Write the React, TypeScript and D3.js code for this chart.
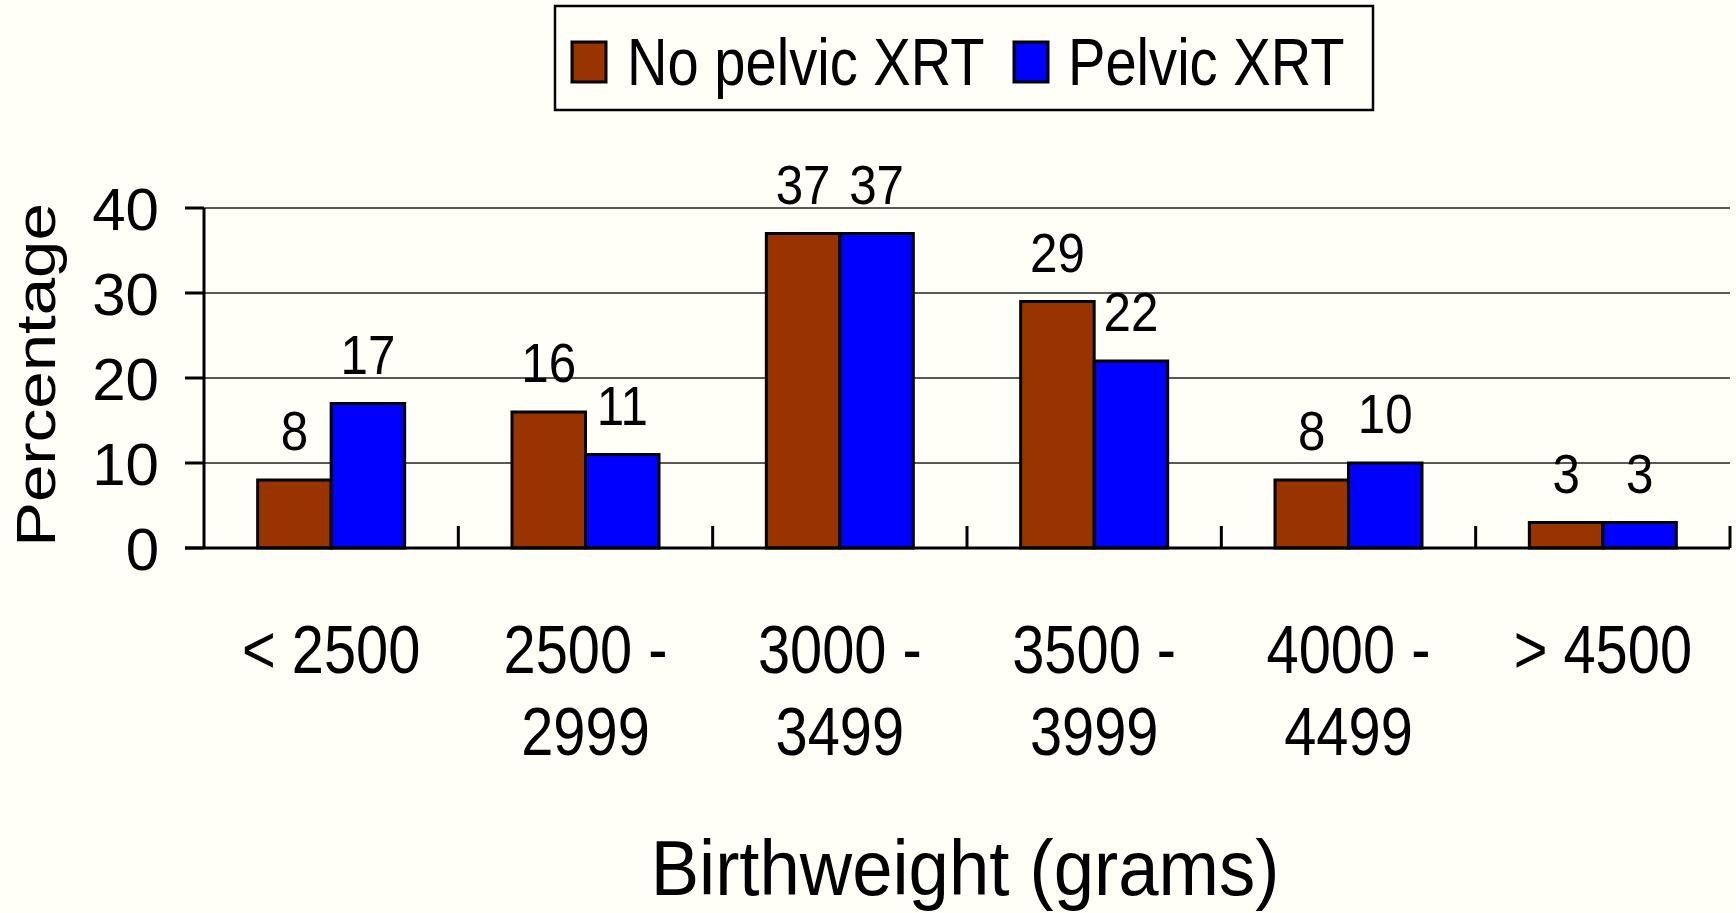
import { useEffect, useRef } from 'react';
import * as d3 from 'd3';

const categories = ['< 2500', '2500 - 2999', '3000 - 3499', '3500 - 3999', '4000 - 4499', '> 4500'];
const categoryLines = [['< 2500'], ['2500 -', '2999'], ['3000 -', '3499'], ['3500 -', '3999'], ['4000 -', '4499'], ['> 4500']];
const seriesNames = ['No pelvic XRT', 'Pelvic XRT'];
const noPelvic = [8, 16, 37, 29, 8, 3];
const pelvic = [17, 11, 37, 22, 10, 3];
const yTicks = [0, 10, 20, 30, 40];
const colors = ['#993300', '#0000FF'];

const W = 1736;
const H = 913;
const FONT = '"Liberation Sans", Arial, sans-serif';

export default function App() {
  const svgRef = useRef<SVGSVGElement>(null);

  useEffect(() => {
    if (!svgRef.current) return;
    const svg = d3.select(svgRef.current);
    svg.selectAll('*').remove();

    const left = 204, right = 1730, bottom = 548, top = 208;

    svg.append('rect').attr('width', W).attr('height', H).attr('fill', '#FFFFF7');

    const x = d3.scaleBand().domain(categories).range([left, right]).paddingInner(0).paddingOuter(0);
    const inner = d3.scaleBand().domain(seriesNames).range([0, 147]);
    const groupOffset = (x.bandwidth() - 147) / 2;
    const y = d3.scaleLinear().domain([0, 40]).range([bottom, top]);

    // gridlines
    svg.append('g').selectAll('line').data(yTicks.filter(t => t > 0)).join('line')
      .attr('x1', left).attr('x2', right)
      .attr('y1', d => y(d)).attr('y2', d => y(d))
      .attr('stroke', '#222').attr('stroke-width', 1.3);

    // bars
    const series = [noPelvic, pelvic];
    series.forEach((vals, si) => {
      svg.append('g').selectAll('rect').data(vals).join('rect')
        .attr('x', (_, i) => (x(categories[i]) ?? 0) + groupOffset + (inner(seriesNames[si]) ?? 0))
        .attr('y', d => y(d))
        .attr('width', inner.bandwidth())
        .attr('height', d => bottom - y(d))
        .attr('fill', colors[si])
        .attr('stroke', '#000').attr('stroke-width', 3);

      svg.append('g').selectAll('text').data(vals).join('text')
        .attr('transform', (d, i) => {
          const cx = (x(categories[i]) ?? 0) + groupOffset + (inner(seriesNames[si]) ?? 0) + inner.bandwidth() / 2;
          return `translate(${cx},${y(d) - 30}) scale(0.88,1)`;
        })
        .attr('text-anchor', 'middle')
        .style('font-family', FONT).style('font-size', '56px').attr('fill', '#000')
        .text(d => d);
    });

    // y axis
    svg.append('line').attr('x1', left).attr('x2', left).attr('y1', top).attr('y2', bottom)
      .attr('stroke', '#000').attr('stroke-width', 3);
    svg.append('g').selectAll('line').data(yTicks).join('line')
      .attr('x1', 185).attr('x2', left).attr('y1', d => y(d)).attr('y2', d => y(d))
      .attr('stroke', '#000').attr('stroke-width', 3);
    svg.append('g').selectAll('text').data(yTicks).join('text')
      .attr('x', 159).attr('y', d => y(d)).attr('dy', '0.36em')
      .attr('text-anchor', 'end')
      .style('font-family', FONT).style('font-size', '60px').attr('fill', '#000')
      .text(d => d);

    // x axis
    svg.append('line').attr('x1', 185).attr('x2', right).attr('y1', bottom).attr('y2', bottom)
      .attr('stroke', '#000').attr('stroke-width', 3);
    svg.append('g').selectAll('line').data(categories).join('line')
      .attr('x1', d => (x(d) ?? 0) + x.bandwidth()).attr('x2', d => (x(d) ?? 0) + x.bandwidth())
      .attr('y1', bottom).attr('y2', bottom - 22)
      .attr('stroke', '#000').attr('stroke-width', 3);

    const catG = svg.append('g').selectAll('text').data(categoryLines).join('text')
      .attr('transform', (_, i) => `translate(${(x(categories[i]) ?? 0) + x.bandwidth() / 2},0) scale(0.85,1)`)
      .attr('text-anchor', 'middle')
      .style('font-family', FONT).style('font-size', '68px').attr('fill', '#000');
    catG.selectAll('tspan').data(d => d).join('tspan')
      .attr('x', 0).attr('y', (_, j) => 673 + j * 82)
      .text(d => d);

    // axis titles
    svg.append('text')
      .attr('transform', `translate(965,895) scale(0.93,1)`)
      .attr('text-anchor', 'middle')
      .style('font-family', FONT).style('font-size', '78px').attr('fill', '#000')
      .text('Birthweight (grams)');
    svg.append('text')
      .attr('transform', `translate(55,375) rotate(-90) scale(1.2,1)`)
      .attr('text-anchor', 'middle')
      .style('font-family', FONT).style('font-size', '56px').attr('fill', '#000')
      .text('Percentage');

    // legend
    const lg = svg.append('g');
    lg.append('rect').attr('x', 555).attr('y', 6).attr('width', 818).attr('height', 104)
      .attr('fill', '#FFFFF7').attr('stroke', '#000').attr('stroke-width', 2.5);
    const legendX = [[572, 627], [1014, 1068]];
    seriesNames.forEach((name, i) => {
      lg.append('rect').attr('x', legendX[i][0]).attr('y', 42).attr('width', 34).attr('height', 40)
        .attr('fill', colors[i]).attr('stroke', '#000').attr('stroke-width', 3);
      lg.append('text')
        .attr('transform', `translate(${legendX[i][1]},85) scale(0.85,1)`)
        .style('font-family', FONT).style('font-size', '66px').attr('fill', '#000')
        .text(name);
    });
  }, []);

  return (
    <div style={{ position: 'absolute', left: 0, top: 0 }}>
      <svg ref={svgRef} width={W} height={H} style={{ display: 'block' }}></svg>
    </div>
  );
}
